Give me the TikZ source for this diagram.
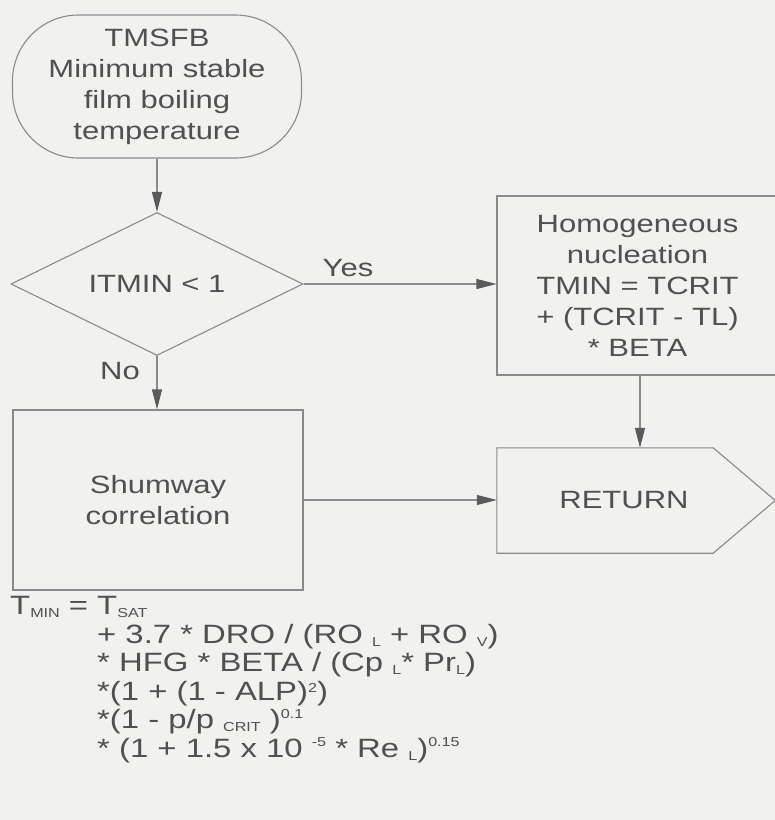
\documentclass[tikz,border=0pt]{standalone}
\usepackage{fontspec}
\setmainfont{Liberation Sans}[FakeStretch=1.24]
\usetikzlibrary{arrows.meta,shapes.geometric}
\definecolor{bg}{HTML}{F1F1EF}
\definecolor{ink}{HTML}{505050}
\definecolor{edge}{HTML}{8A8A8A}
\definecolor{tipc}{HTML}{5A5A5A}
\newcommand\lo[1]{\raisebox{-3pt}{\fontsize{13}{13}\selectfont #1}}
\newcommand\hi[1]{\raisebox{10.5pt}{\fontsize{13}{13}\selectfont #1}}
\begin{document}
\begin{tikzpicture}[x=1pt,y=-1pt,
  every node/.style={text=ink, font=\fontsize{25}{31}\selectfont},
  shp/.style={draw=edge, line width=1.1pt},
  conn/.style={draw=edge, line width=1.1pt, -{Triangle[length=20pt,width=10pt,fill=tipc,color=tipc]}},
]
\fill[bg] (0,0) rectangle (775,820);
\useasboundingbox (0,0) rectangle (775,820);
\node[shp, rounded corners=66pt, minimum width=289pt, minimum height=143pt, align=center, inner sep=0pt] (start) at (157,86.5) {TMSFB\\Minimum stable\\film boiling\\temperature};
\node[shp, diamond, aspect=2.04, inner sep=0pt, minimum width=292pt, minimum height=143pt] (dec) at (157,284) {ITMIN < 1};
\node[shp, minimum width=281pt, minimum height=179pt, align=center, inner sep=0pt] (hom) at (637.5,285.5) {Homogeneous\\nucleation\\TMIN = TCRIT\\+ (TCRIT - TL)\\* BETA};
\node[shp, minimum width=290pt, minimum height=180pt, align=center, inner sep=0pt] (shu) at (158,500) {Shumway\\correlation};
\node[minimum width=216pt, minimum height=105pt, inner sep=0pt] (ret) at (605,500.5) {\hspace*{38pt}RETURN};
\coordinate (rettip) at ([xshift=62pt]ret.east);
\draw[shp] (ret.north west) -- (ret.north east) -- (rettip) -- (ret.south east) -- (ret.south west) -- cycle;
\node (yes) at (348,268) {Yes};
\node (no) at (120,371) {No};
\draw[conn] (start.south) -- (dec.north);
\draw[conn] (dec.east) -- (dec.east -| hom.west);
\draw[conn] (dec.south) -- (dec.south |- shu.north);
\draw[conn] (shu.east) -- (shu.east -| ret.west);
\draw[conn] ([xshift=2.5pt]hom.south) -- ([xshift=2.5pt]hom.south |- ret.north);
\node[anchor=north west, align=left, inner sep=0pt, font=\fontsize{26.5}{28.5}\selectfont] (eq) at (10,596.5) {T\lo{MIN} = T\lo{SAT}\\
\hspace*{87pt}+ 3.7 * DRO / (RO \lo{L} + RO \lo{V})\\
\hspace*{87pt}* HFG * BETA / (Cp \lo{L}* Pr\lo{L})\\
\hspace*{87pt}*(1 + (1 - ALP)\raisebox{7.5pt}{\fontsize{13}{13}\selectfont 2})\\
\hspace*{87pt}*(1 - p/p \lo{CRIT} )\hi{0.1}\\
\hspace*{87pt}* (1 + 1.5 x 10 \hi{-5} * Re \lo{L})\hi{0.15}};
\end{tikzpicture}
\end{document}
